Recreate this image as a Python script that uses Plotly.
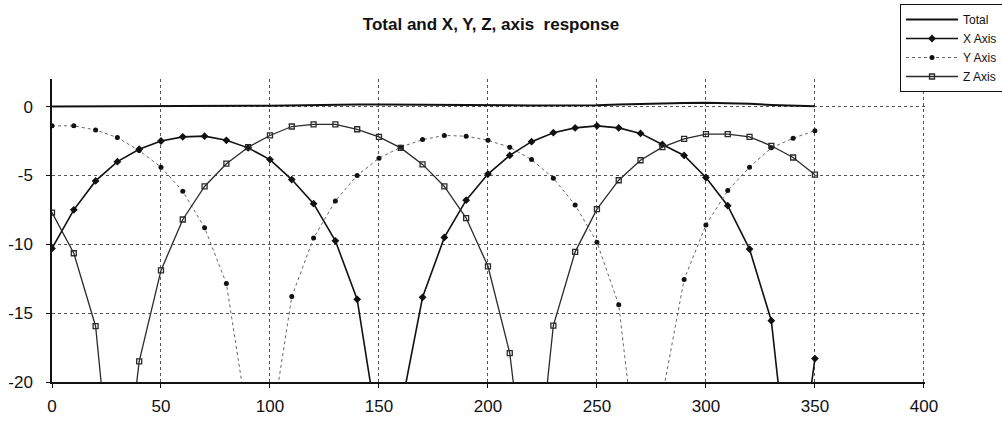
import plotly.graph_objects as go

# Angle in degrees, sampled every 10
angle = list(range(0, 360, 10))

# Response in dB for each axis and the total
total = [0.0, 0.0, 0.0, 0.0, 0.0, 0.0, 0.0, 0.02, 0.04, 0.05,
         0.06, 0.09, 0.12, 0.14, 0.15, 0.15, 0.15, 0.14, 0.13, 0.12,
         0.12, 0.10, 0.08, 0.07, 0.08, 0.10, 0.15, 0.20, 0.24, 0.26,
         0.27, 0.25, 0.20, 0.12, 0.06, 0.03]

x_axis = [-10.3, -7.5, -5.4, -4.0, -3.1, -2.5, -2.2, -2.15, -2.45, -3.0,
          -3.85, -5.3, -7.05, -9.75, -14.0, -24.0, -22.0, -13.85, -9.5, -6.8,
          -4.9, -3.55, -2.55, -1.9, -1.55, -1.4, -1.55, -1.95, -2.75, -3.55,
          -5.15, -7.2, -10.35, -15.55, -30.0, -18.3]

y_axis = [-1.4, -1.4, -1.7, -2.25, -3.2, -4.4, -6.15, -8.8, -12.85, -23.0,
          -24.0, -13.8, -9.55, -6.85, -5.0, -3.75, -2.95, -2.4, -2.1, -2.15,
          -2.45, -2.95, -3.85, -5.2, -7.15, -9.85, -14.4, -28.0, -21.0, -12.55,
          -8.6, -6.1, -4.4, -3.0, -2.3, -1.75]

z_axis = [-7.7, -10.65, -15.95, -32.0, -18.5, -11.9, -8.2, -5.8, -4.15, -2.95,
          -2.1, -1.45, -1.3, -1.3, -1.65, -2.2, -3.0, -4.2, -5.8, -8.1,
          -11.6, -17.9, -31.0, -15.9, -10.55, -7.45, -5.35, -3.9, -2.95, -2.35,
          -2.0, -2.0, -2.2, -2.85, -3.7, -4.95]

x_ticks = [0, 50, 100, 150, 200, 250, 300, 350, 400]
y_ticks = [0, -5, -10, -15, -20]

FONT = "Liberation Sans, Arial, sans-serif"

fig = go.Figure()
fig.add_trace(go.Scatter(
    x=angle, y=total, name="Total", mode="lines",
    line=dict(color="#111111", width=2)))
fig.add_trace(go.Scatter(
    x=angle, y=x_axis, name="X Axis", mode="lines+markers",
    line=dict(color="#111111", width=1.6),
    marker=dict(symbol="diamond", size=6, color="#111111")))
fig.add_trace(go.Scatter(
    x=angle, y=y_axis, name="Y Axis", mode="lines+markers",
    line=dict(color="#666666", width=1, dash="dot"),
    marker=dict(symbol="circle", size=5, color="#111111")))
fig.add_trace(go.Scatter(
    x=angle, y=z_axis, name="Z Axis", mode="lines+markers",
    line=dict(color="#2a2a2a", width=1.3),
    marker=dict(symbol="square-open", size=5, color="#2a2a2a",
                line=dict(width=1.3, color="#2a2a2a"))))

fig.update_layout(
    width=1002, height=421,
    margin=dict(l=52, r=77, t=79, b=39, autoexpand=False),
    paper_bgcolor="white", plot_bgcolor="white",
    font=dict(family=FONT, color="#111111"),
    title=dict(text="<b>Total and X, Y, Z, axis  response</b>",
               x=491 / 1002, xanchor="center", y=1 - 24 / 421, yanchor="middle",
               font=dict(size=17, family=FONT, color="#111111")),
    legend=dict(xref="container", yref="container",
                x=900 / 1002, xanchor="left", y=1 - 4 / 421, yanchor="top",
                bgcolor="white", bordercolor="#111111", borderwidth=1,
                font=dict(size=12, family=FONT, color="#111111"),
                itemwidth=52, tracegroupgap=0),
    showlegend=True,
)

# Range end is nudged just past 400 so the 400 gridline is drawn
fig.update_xaxes(
    range=[0, 400.5], tickvals=x_ticks, ticktext=[str(v) for v in x_ticks],
    showgrid=True, gridcolor="#555555", griddash="dot", gridwidth=1,
    zeroline=False, showline=True, linecolor="#111111", linewidth=1.5,
    ticks="outside", ticklen=4, tickcolor="#111111",
    tickfont=dict(size=17, family=FONT, color="#111111"),
    ticklabelstandoff=4, automargin=False,
)
fig.update_yaxes(
    range=[-20, 2], tickvals=y_ticks, ticktext=[str(v) for v in y_ticks],
    showgrid=True, gridcolor="#555555", griddash="dot", gridwidth=1,
    zeroline=False, showline=True, linecolor="#111111", linewidth=1.5,
    ticks="outside", ticklen=4, tickcolor="#111111",
    tickfont=dict(size=17, family=FONT, color="#111111"),
    ticklabelstandoff=10, automargin=False,
)

fig.write_html("out.html")
